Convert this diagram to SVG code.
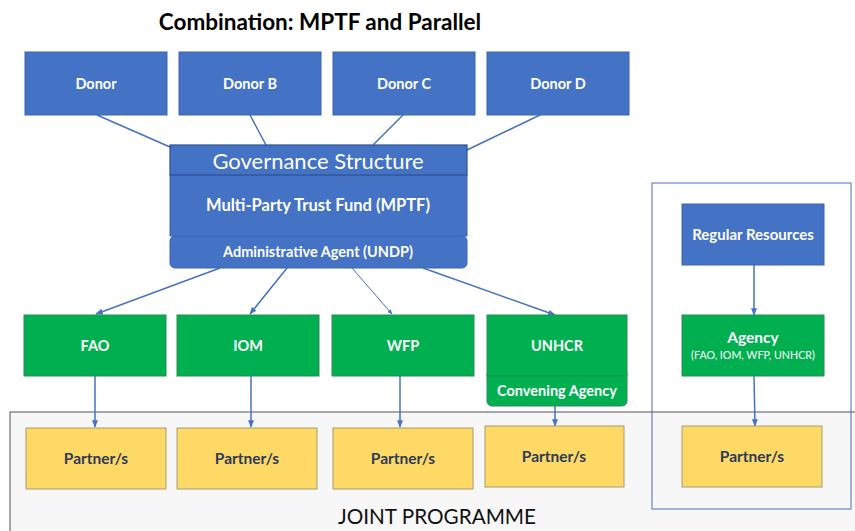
<svg xmlns="http://www.w3.org/2000/svg" width="855" height="531" viewBox="0 0 855 531">
<style>
text{font-family:Lato,"Open Sans","Liberation Sans",sans-serif;text-anchor:middle}
.blue{fill:#4472c4;stroke:#3a64b0;stroke-width:1}
.green{fill:#00b050;stroke:#2e8b57;stroke-width:1}
.yellow{fill:#ffd966;stroke:#a89c70;stroke-width:1}
.w{fill:#fff;font-weight:bold;font-size:14.5px}
.p{fill:#2e3a59;font-weight:bold;font-size:15.5px}
.c{stroke:#4472c4;stroke-width:1.5;fill:none}
.ca{stroke:#4472c4;stroke-width:1.5;fill:none;marker-end:url(#ah)}
</style>
<defs>
<marker id="ah" viewBox="0 0 10 10" refX="9" refY="5" markerWidth="5" markerHeight="5" orient="auto" markerUnits="strokeWidth">
<path d="M0,1 L10,5 L0,9 z" fill="#4472c4"/>
</marker>
</defs>
<rect width="855" height="531" fill="#fff"/>
<text x="320" y="30" style="font-size:22.5px;font-weight:bold;fill:#000">Combination: MPTF and Parallel</text>

<g id="joint-programme">
<rect x="10" y="412" width="850" height="125" fill="#f7f7f7" stroke="#555" stroke-width="1"/>
<text x="437" y="524" style="font-size:20.7px;fill:#111">JOINT PROGRAMME</text>
</g>
<g id="parallel-frame">
<rect x="652" y="183" width="199" height="326" fill="none" stroke="#4a6fb5" stroke-width="1"/>
</g>

<g id="connectors">
<line class="c" x1="97" y1="115" x2="170" y2="147"/>
<line class="c" x1="250" y1="115" x2="266" y2="145"/>
<line class="c" x1="403" y1="115" x2="373" y2="145"/>
<line class="c" x1="540" y1="115" x2="467" y2="150"/>
<line class="ca" x1="220" y1="268" x2="96" y2="314"/>
<line class="ca" x1="287" y1="268" x2="250" y2="314"/>
<line class="ca" x1="352" y1="268" x2="392" y2="314" style="stroke-width:1"/>
<line class="ca" x1="423" y1="268" x2="555" y2="315"/>
<line class="ca" x1="95" y1="376" x2="95" y2="427"/>
<line class="ca" x1="251" y1="376" x2="251" y2="427"/>
<line class="ca" x1="400" y1="376" x2="400" y2="427"/>
<line class="ca" x1="555" y1="406" x2="555" y2="426"/>
<line class="ca" x1="754" y1="265" x2="754" y2="315"/>
<line class="ca" x1="754" y1="376" x2="755" y2="426"/>
</g>

<g id="donor-a"><rect class="blue" x="25" y="52" width="142" height="63"/><text class="w" x="96" y="89">Donor</text></g>
<g id="donor-b"><rect class="blue" x="179" y="52" width="142" height="63"/><text class="w" x="250" y="89">Donor B</text></g>
<g id="donor-c"><rect class="blue" x="333" y="52" width="142" height="63"/><text class="w" x="404" y="89">Donor C</text></g>
<g id="donor-d"><rect class="blue" x="487" y="52" width="142" height="63"/><text class="w" x="558" y="89">Donor D</text></g>

<g id="mptf">
<rect class="blue" x="170" y="236" width="297" height="32" rx="5" stroke="#2f528f"/>
<text class="w" x="318" y="257" style="font-size:14.5px">Administrative Agent (UNDP)</text>
<rect class="blue" x="170" y="175" width="297" height="61"/>
<text class="w" x="318" y="211" style="font-size:16.5px">Multi-Party Trust Fund (MPTF)</text>
<rect x="170" y="145" width="297" height="30" fill="#4472c4" stroke="#2f528f" stroke-width="1.2"/>
<text x="318" y="169" style="font-size:22px;fill:#fff">Governance Structure</text>
</g>

<g id="fao"><rect class="green" x="24" y="315" width="142" height="61"/><text class="w" x="95" y="351">FAO</text></g>
<g id="iom"><rect class="green" x="177" y="315" width="142" height="61"/><text class="w" x="248" y="351">IOM</text></g>
<g id="wfp"><rect class="green" x="332" y="315" width="142" height="61"/><text class="w" x="403" y="351">WFP</text></g>
<g id="unhcr">
<rect class="green" x="487" y="370" width="140" height="36" rx="5"/>
<text class="w" x="557" y="396" style="font-size:14.5px">Convening Agency</text>
<rect class="green" x="487" y="315" width="140" height="61"/>
<text class="w" x="557" y="351">UNHCR</text>
</g>

<g id="partner-fao"><rect class="yellow" x="26" y="428" width="140" height="61"/><text class="p" x="96" y="464">Partner/s</text></g>
<g id="partner-iom"><rect class="yellow" x="177" y="428" width="140" height="61"/><text class="p" x="247" y="464">Partner/s</text></g>
<g id="partner-wfp"><rect class="yellow" x="333" y="428" width="140" height="61"/><text class="p" x="403" y="464">Partner/s</text></g>
<g id="partner-unhcr"><rect class="yellow" x="485" y="426" width="139" height="61"/><text class="p" x="554" y="462">Partner/s</text></g>

<g id="regular-resources"><rect class="blue" x="682" y="204" width="142" height="61"/><text class="w" x="753" y="240" style="font-size:15px">Regular Resources</text></g>
<g id="agency">
<rect class="green" x="682" y="315" width="142" height="61"/>
<text class="w" x="753" y="343" style="font-size:15.5px">Agency</text>
<text x="753" y="359" style="font-size:10.7px;fill:#fff">(FAO, IOM, WFP, UNHCR)</text>
</g>
<g id="partner-parallel"><rect class="yellow" x="682" y="426" width="140" height="61"/><text class="p" x="752" y="462">Partner/s</text></g>
</svg>
